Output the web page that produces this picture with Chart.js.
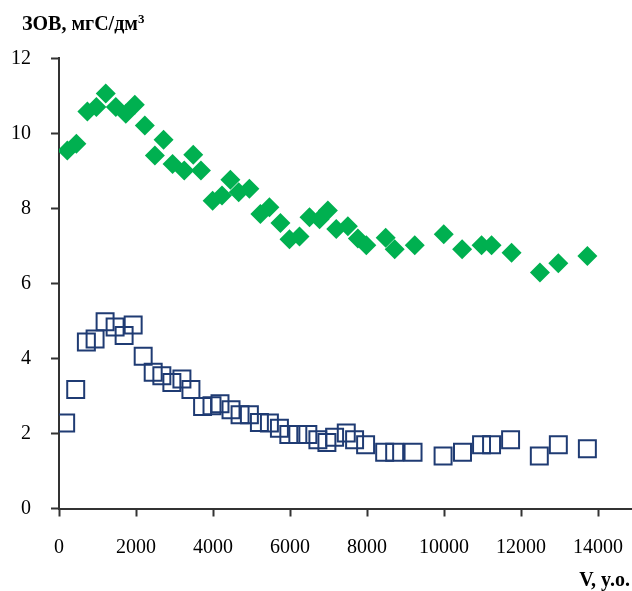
<!DOCTYPE html>
<html>
<head>
<meta charset="utf-8">
<script src="https://cdn.jsdelivr.net/npm/chart.js@4/dist/chart.umd.min.js"></script>
<style>
  html, body { margin: 0; padding: 0; background: #fff; }
  #wrap { position: relative; width: 632px; height: 591px; }
  canvas { position: absolute; left: 0; top: 0; }
  .lbl { position: absolute; font-family: 'Liberation Serif', 'Times New Roman', serif; font-weight: bold; font-size: 20px; color: #000; white-space: nowrap; line-height: 1; }
  .lbl sup { font-size: 13px; vertical-align: top; position: relative; top: -1px; }
</style>
</head>
<body>
<div id="wrap">
  <canvas id="c" width="632" height="591"></canvas>
  <div class="lbl" id="ytitle" style="left:22px; top:13px;">ЗОВ, мгС/дм<sup>3</sup></div>
  <div class="lbl" id="xtitle" style="right:2px; top:569px;">V, y.o.</div>
</div>
<script>
// Upper series (green diamonds)
const greenX = [216, 451, 737, 971, 1214, 1475, 1735, 1969, 2229, 2490, 2715, 2949, 3253, 3487, 3686, 3990, 4233, 4450, 4667, 4944, 5230, 5464, 5751, 5985, 6245, 6505, 6766, 6982, 7200, 7502, 7762, 7980, 8483, 8717, 9238, 9992, 10469, 10973, 11233, 11753, 12490, 12967, 13721];
const greenY = [9.54, 9.72, 10.58, 10.70, 11.06, 10.70, 10.52, 10.76, 10.21, 9.41, 9.83, 9.18, 9.01, 9.43, 9.01, 8.20, 8.34, 8.76, 8.43, 8.52, 7.85, 8.03, 7.61, 7.18, 7.25, 7.76, 7.71, 7.94, 7.45, 7.52, 7.20, 7.02, 7.22, 6.91, 7.02, 7.31, 6.91, 7.02, 7.02, 6.82, 6.29, 6.54, 6.73];
// Lower series (open blue squares)
const blueX = [173, 434, 711, 937, 1197, 1457, 1691, 1926, 2186, 2446, 2671, 2931, 3192, 3426, 3729, 3973, 4181, 4467, 4702, 4944, 5204, 5464, 5724, 5968, 6202, 6462, 6723, 6957, 7157, 7460, 7676, 7962, 8457, 8717, 9194, 9974, 10478, 10973, 11233, 11727, 12473, 12967, 13721];
const blueY = [2.28, 3.17, 4.44, 4.52, 4.98, 4.84, 4.61, 4.89, 4.06, 3.63, 3.54, 3.36, 3.45, 3.17, 2.72, 2.74, 2.79, 2.63, 2.50, 2.50, 2.29, 2.28, 2.14, 1.97, 1.97, 1.97, 1.83, 1.76, 1.90, 2.01, 1.83, 1.70, 1.50, 1.50, 1.50, 1.40, 1.50, 1.70, 1.70, 1.83, 1.40, 1.70, 1.59];
// Axis ticks
const xTicks = [0, 2000, 4000, 6000, 8000, 10000, 12000, 14000];
const yTicks = [0, 2, 4, 6, 8, 10, 12];

const toPts = (xs, ys) => xs.map((x, i) => ({ x: x, y: ys[i] }));
const axisColor = '#333333';
const tickFont = { family: "'Liberation Serif', 'Times New Roman', serif", size: 20 };

new Chart(document.getElementById('c'), {
  type: 'scatter',
  data: {
    datasets: [
      {
        data: toPts(greenX, greenY),
        pointStyle: 'rectRot',
        pointRadius: 10,
        pointHoverRadius: 10,
        backgroundColor: '#00B050',
        borderColor: '#00B050',
        borderWidth: 0
      },
      {
        data: toPts(blueX, blueY),
        pointStyle: 'rect',
        pointRadius: 12,
        pointHoverRadius: 12,
        backgroundColor: 'rgba(255,255,255,0)',
        borderColor: '#1F3B73',
        borderWidth: 2
      }
    ]
  },
  options: {
    responsive: false,
    animation: false,
    events: [],
    layout: { autoPadding: false, padding: { top: 58.3, left: 0, right: 0, bottom: 0 } },
    plugins: { legend: { display: false }, tooltip: { enabled: false } },
    scales: {
      x: {
        type: 'linear',
        min: 0,
        max: 14880,
        afterBuildTicks: (s) => { s.ticks = xTicks.map(v => ({ value: v })); },
        afterFit: (s) => { s.height = 82.5; s.paddingLeft = 0; s.paddingRight = 0; },
        border: { display: true, color: axisColor, width: 2 },
        grid: { display: true, drawOnChartArea: false, drawTicks: true, tickLength: 8, tickColor: axisColor, tickWidth: 2 },
        ticks: { color: '#000', font: tickFont, padding: 19, maxRotation: 0, autoSkip: false, callback: (v) => String(v) }
      },
      y: {
        type: 'linear',
        min: 0,
        max: 12,
        afterBuildTicks: (s) => { s.ticks = yTicks.map(v => ({ value: v })); },
        afterFit: (s) => { s.width = 59; s.paddingTop = 0; s.paddingBottom = 0; },
        border: { display: true, color: axisColor, width: 2 },
        grid: { display: true, drawOnChartArea: false, drawTicks: true, tickLength: 8, tickColor: axisColor, tickWidth: 2 },
        ticks: { color: '#000', font: tickFont, padding: 20, callback: (v) => String(v) }
      }
    }
  }
});
</script>
</body>
</html>
